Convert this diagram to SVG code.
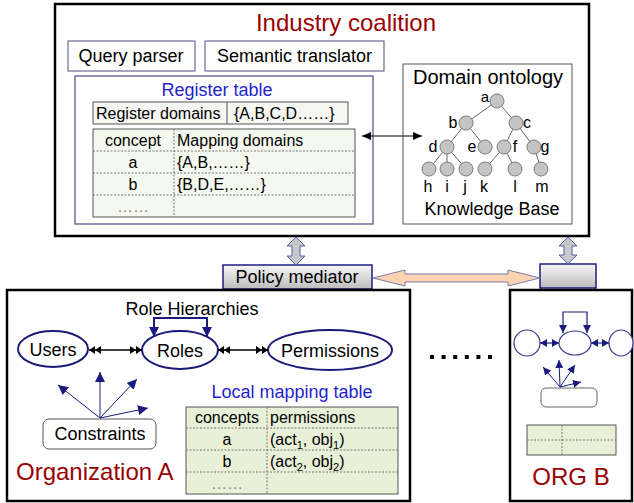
<svg xmlns="http://www.w3.org/2000/svg" width="634" height="503" viewBox="0 0 634 503">
<style>
  text { font-family: "Liberation Sans", Arial, sans-serif; fill: #000; }
  .big { font-size: 24px; fill: #990000; }
  .t18 { font-size: 18px; }
  .t16 { font-size: 16px; }
  .blue { fill: #1f1fcf; }
  .mid { text-anchor: middle; }
  .frame { fill: #fff; stroke: #000; stroke-width: 2.5; }
  .sub { fill: #fff; stroke: #6a6a9a; stroke-width: 1.2; }
  .cell { stroke: #555; stroke-width: 1; }
  .dot { stroke: #777; stroke-width: 1; stroke-dasharray: 2 1.5; fill: none; }
  .tn { fill: #c4c4c4; stroke: #7a7a7a; stroke-width: 1; }
  .te { stroke: #666; stroke-width: 1; fill: none; }
  .ell { fill: #fff; stroke: #1a1a78; stroke-width: 2; }
  .ellb { fill: #fff; stroke: #3a3a8a; stroke-width: 1.2; }
  .navy { stroke: #1a1a80; fill: none; }
  .grey { fill: #888; }
  .blockv { fill: #c8c8cc; stroke: #5a5aa0; stroke-width: 1; }
  .peach { fill: #fbd3b0; stroke: #7a7ab0; stroke-width: 1; }
  .med { fill: url(#gmed); stroke: #1c1c80; stroke-width: 1.5; }
</style>
<defs>
  <linearGradient id="gmed" x1="0" y1="0" x2="0" y2="1">
    <stop offset="0" stop-color="#f7f7f7"/>
    <stop offset="1" stop-color="#bcbcbc"/>
  </linearGradient>
  <marker id="ab" markerUnits="userSpaceOnUse" markerWidth="9" markerHeight="8" refX="9" refY="4" orient="auto-start-reverse">
    <path d="M0,0 L9,4 L0,8 Z" fill="#000"/>
  </marker>
  <marker id="dbl" markerUnits="userSpaceOnUse" markerWidth="12" markerHeight="9" refX="12" refY="4.5" orient="auto-start-reverse">
    <path d="M0,0.5 L6,4.5 L0,8.5 Z M6,0.5 L12,4.5 L6,8.5 Z" fill="#000"/>
  </marker>
  <marker id="sn" markerUnits="userSpaceOnUse" markerWidth="7" markerHeight="8" refX="7" refY="4" orient="auto-start-reverse">
    <path d="M0,0 L7,4 L0,8 Z" fill="#1a1a80"/>
  </marker>
  <marker id="an" markerUnits="userSpaceOnUse" markerWidth="10" markerHeight="10" refX="10" refY="5" orient="auto-start-reverse">
    <path d="M0,0 L10,5 L0,10 Z" fill="#1a1a80"/>
  </marker>
  <marker id="ans" markerUnits="userSpaceOnUse" markerWidth="8" markerHeight="8" refX="8" refY="4" orient="auto-start-reverse">
    <path d="M0,0 L8,4 L0,8 Z" fill="#1a1a80"/>
  </marker>
</defs>

<!-- Industry coalition -->
<g id="industry-coalition">
  <rect class="frame" x="55" y="4" width="534" height="232"/>
  <text class="big mid" x="346" y="31">Industry coalition</text>
</g>
<g id="query-parser">
  <rect class="sub" x="68" y="41" width="127" height="30"/>
  <text class="t18 mid" x="131" y="62">Query parser</text>
</g>
<g id="semantic-translator">
  <rect class="sub" x="205" y="41" width="179" height="30"/>
  <text class="t18 mid" x="294.5" y="62">Semantic translator</text>
</g>
<g id="register-table">
  <rect fill="#fff" stroke="#4a4a8a" stroke-width="1.2" x="75" y="76" width="298" height="148"/>
  <text class="t18 blue mid" x="217" y="96">Register table</text>
  <rect class="cell" fill="#f6f6f2" x="93" y="102" width="255" height="22"/>
  <line class="cell" x1="227" y1="102" x2="227" y2="124"/>
  <text class="t16" x="96" y="119">Register domains</text>
  <text class="t16" x="234" y="119">{A,B,C,D……}</text>
  <rect class="cell" fill="#f5f8ee" x="93" y="129" width="262" height="88"/>
  <line class="dot" x1="174" y1="129" x2="174" y2="217"/>
  <line class="dot" x1="93" y1="151" x2="355" y2="151"/>
  <line class="dot" x1="93" y1="173" x2="355" y2="173"/>
  <line class="dot" x1="93" y1="195" x2="355" y2="195"/>
  <text class="t16 mid" x="133" y="146">concept</text>
  <text class="t16" x="177" y="146">Mapping domains</text>
  <text class="t16 mid" x="133" y="168">a</text>
  <text class="t16" x="177" y="168">{A,B,……}</text>
  <text class="t16 mid" x="133" y="190">b</text>
  <text class="t16" x="177" y="190">{B,D,E,……}</text>
  <text class="t16 mid grey" x="133" y="212">……</text>
</g>
<g id="domain-ontology">
  <rect fill="#fff" stroke="#555" stroke-width="1" x="403" y="64" width="169" height="160"/>
  <text class="mid" font-size="20" x="488" y="84">Domain ontology</text>
  <g class="te">
    <line x1="497" y1="101" x2="466" y2="123"/>
    <line x1="497" y1="101" x2="516" y2="123"/>
    <line x1="466" y1="123" x2="447" y2="147"/>
    <line x1="466" y1="123" x2="485" y2="147"/>
    <line x1="516" y1="123" x2="504" y2="147"/>
    <line x1="516" y1="123" x2="534" y2="147"/>
    <line x1="447" y1="147" x2="429" y2="169"/>
    <line x1="447" y1="147" x2="447" y2="169"/>
    <line x1="447" y1="147" x2="466" y2="169"/>
    <line x1="504" y1="147" x2="485" y2="169"/>
    <line x1="504" y1="147" x2="515" y2="169"/>
    <line x1="534" y1="147" x2="541" y2="169"/>
  </g>
  <g class="tn">
    <circle cx="497" cy="101" r="7"/>
    <circle cx="466" cy="123" r="7"/>
    <circle cx="516" cy="123" r="7"/>
    <circle cx="447" cy="147" r="7"/>
    <circle cx="485" cy="147" r="7"/>
    <circle cx="504" cy="147" r="7"/>
    <circle cx="534" cy="147" r="7"/>
    <circle cx="429" cy="169" r="7"/>
    <circle cx="447" cy="169" r="7"/>
    <circle cx="466" cy="169" r="7"/>
    <circle cx="485" cy="169" r="7"/>
    <circle cx="515" cy="169" r="7"/>
    <circle cx="541" cy="169" r="7"/>
  </g>
  <g class="t16">
    <text class="mid" font-size="15" x="485" y="102">a</text>
    <text class="mid" x="453" y="128">b</text>
    <text class="mid" x="527" y="128">c</text>
    <text class="mid" x="433" y="152">d</text>
    <text class="mid" x="472" y="152">e</text>
    <text class="mid" x="515" y="152">f</text>
    <text class="mid" x="545" y="152">g</text>
    <text class="mid" x="428" y="192">h</text>
    <text class="mid" x="447" y="192">i</text>
    <text class="mid" x="465" y="192">j</text>
    <text class="mid" x="484" y="192">k</text>
    <text class="mid" x="515" y="192">l</text>
    <text class="mid" x="542" y="192">m</text>
  </g>
  <text class="t18 mid" x="492" y="215">Knowledge Base</text>
</g>

<!-- Mediators -->
<g id="policy-mediator">
  <rect class="med" x="223" y="265" width="149" height="24"/>
  <text class="t18 mid" x="297" y="283">Policy mediator</text>
</g>
<g id="mediator-b">
  <rect class="med" x="540" y="264" width="56" height="24"/>
</g>

<!-- Organization A -->
<g id="organization-a">
  <rect class="frame" x="7" y="290" width="403" height="211"/>
  <text class="big" x="16" y="480">Organization A</text>
  <text class="t18 mid" x="192" y="315">Role Hierarchies</text>
</g>
<g id="users">
  <ellipse class="ell" cx="53" cy="349" rx="35" ry="18"/>
  <text class="t18 mid" x="53" y="356">Users</text>
</g>
<g id="roles">
  <ellipse class="ell" cx="180" cy="350" rx="38" ry="19"/>
  <text class="t18 mid" x="180" y="357">Roles</text>
</g>
<g id="permissions">
  <ellipse class="ell" cx="330" cy="350" rx="62" ry="20"/>
  <text class="t18 mid" x="330" y="357">Permissions</text>
</g>
<g id="constraints">
  <rect fill="#fff" stroke="#555" stroke-width="1" x="43" y="419" width="113" height="30" rx="6"/>
  <text class="t18 mid" x="100" y="440">Constraints</text>
</g>
<g id="local-mapping-table">
  <text class="t18 blue mid" x="292" y="398">Local mapping table</text>
  <rect class="cell" fill="#e8f1d8" x="186" y="407" width="212" height="87"/>
  <line class="dot" x1="267" y1="407" x2="267" y2="494"/>
  <line class="dot" x1="186" y1="428" x2="398" y2="428"/>
  <line class="dot" x1="186" y1="450" x2="398" y2="450"/>
  <line class="dot" x1="186" y1="472" x2="398" y2="472"/>
  <text class="t16 mid" x="227" y="423">concepts</text>
  <text class="t16" x="270" y="423">permissions</text>
  <text class="t16 mid" x="227" y="445">a</text>
  <text class="t16" x="270" y="445">(act<tspan font-size="11" dy="4">1</tspan><tspan dy="-4">, obj</tspan><tspan font-size="11" dy="4">1</tspan><tspan dy="-4">)</tspan></text>
  <text class="t16 mid" x="227" y="467">b</text>
  <text class="t16" x="270" y="467">(act<tspan font-size="11" dy="4">2</tspan><tspan dy="-4">, obj</tspan><tspan font-size="11" dy="4">2</tspan><tspan dy="-4">)</tspan></text>
  <text class="t16 mid grey" x="227" y="489">……</text>
</g>

<!-- ellipsis between orgs -->
<g id="ellipsis" fill="#000">
  <rect x="430" y="355" width="4" height="4"/>
  <rect x="441.6" y="355" width="4" height="4"/>
  <rect x="453.2" y="355" width="4" height="4"/>
  <rect x="464.8" y="355" width="4" height="4"/>
  <rect x="476.4" y="355" width="4" height="4"/>
  <rect x="488" y="355" width="4" height="4"/>
</g>

<!-- ORG B -->
<g id="org-b">
  <rect class="frame" x="510" y="290" width="122" height="211"/>
  <text class="big mid" x="571" y="485">ORG B</text>
  <ellipse class="ellb" cx="527" cy="343" rx="13" ry="13"/>
  <ellipse class="ellb" cx="575" cy="343" rx="16" ry="12"/>
  <ellipse class="ellb" cx="621" cy="343" rx="12" ry="13"/>
  <rect fill="#fff" stroke="#666" stroke-width="1" x="541" y="388" width="56" height="19" rx="5"/>
  <rect class="cell" fill="#e8f1d8" x="527" y="425" width="89" height="30"/>
  <line class="dot" x1="562" y1="425" x2="562" y2="455"/>
  <line class="dot" x1="527" y1="440" x2="616" y2="440"/>
</g>

<!-- Connectors -->
<g id="connectors">
  <line x1="362" y1="136" x2="422" y2="136" stroke="#000" stroke-width="1" marker-start="url(#ab)" marker-end="url(#ab)"/>
  <polygon class="blockv" points="296,237 305,246 300,246 300,256 305,256 296,265 287,256 292,256 292,246 287,246"/>
  <polygon class="blockv" points="568,237 577,246 572,246 572,255 577,255 568,264 559,255 564,255 564,246 559,246"/>
  <polygon class="peach" points="373,278 405,270 405,274 508,274 508,270 540,278 508,286 508,282 405,282 405,286"/>
  <line x1="89" y1="350" x2="142" y2="350" stroke="#000" stroke-width="1.5" marker-start="url(#dbl)" marker-end="url(#dbl)"/>
  <line x1="218" y1="350" x2="268" y2="350" stroke="#000" stroke-width="1.5" marker-start="url(#dbl)" marker-end="url(#dbl)"/>
  <path class="navy" stroke-width="2" d="M154,337 V318 H207 V337" marker-start="url(#an)" marker-end="url(#an)"/>
  <g class="navy" stroke-width="1">
    <line x1="100" y1="418" x2="58" y2="385" marker-end="url(#an)"/>
    <line x1="100" y1="418" x2="100" y2="372" marker-end="url(#an)"/>
    <line x1="100" y1="418" x2="137" y2="379" marker-end="url(#an)"/>
    <line x1="100" y1="418" x2="148" y2="408" marker-end="url(#an)"/>
  </g>
  <line x1="540" y1="343" x2="559" y2="343" stroke="#1a1a80" stroke-width="1.2" marker-start="url(#sn)" marker-end="url(#sn)"/>
  <line x1="591" y1="343" x2="609" y2="343" stroke="#1a1a80" stroke-width="1.2" marker-start="url(#sn)" marker-end="url(#sn)"/>
  <path class="navy" stroke-width="1.2" d="M563,333 V312 H587 V333" marker-start="url(#ans)" marker-end="url(#ans)"/>
  <g class="navy" stroke-width="1">
    <line x1="560" y1="387" x2="543" y2="367" marker-end="url(#ans)"/>
    <line x1="560" y1="387" x2="559" y2="360" marker-end="url(#ans)"/>
    <line x1="560" y1="387" x2="575" y2="365" marker-end="url(#ans)"/>
    <line x1="560" y1="387" x2="581" y2="382" marker-end="url(#ans)"/>
  </g>
</g>
</svg>
